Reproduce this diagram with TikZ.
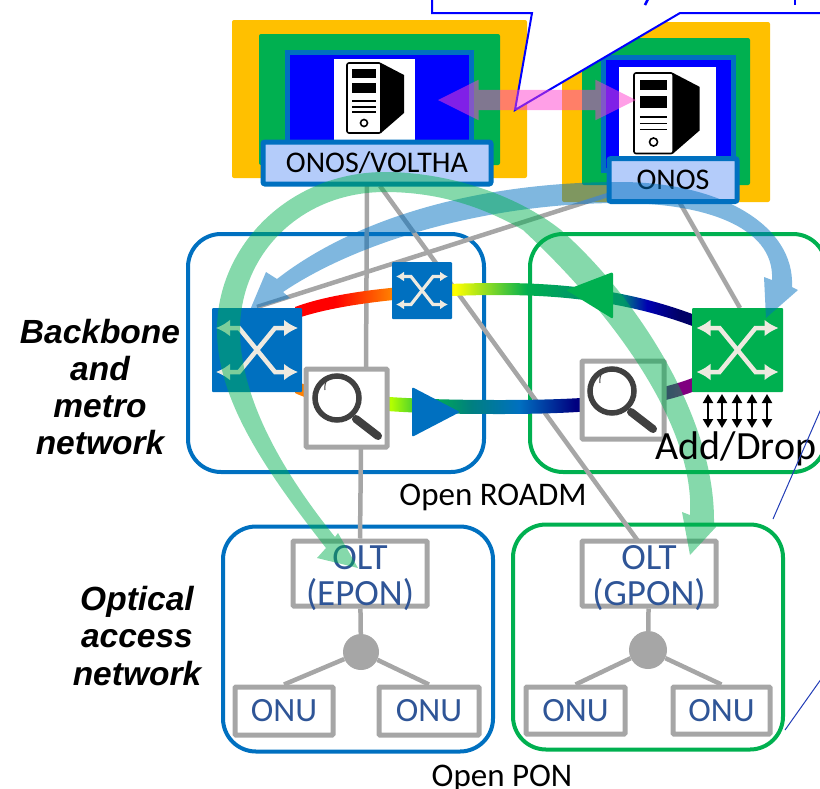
\documentclass[tikz,border=0pt]{standalone}
\usepackage{fontspec}
\setmainfont{Carlito}
\newfontfamily\labelfont{Liberation Sans}
\usetikzlibrary{arrows.meta,shapes.arrows}

\definecolor{netblue}{HTML}{0070C0}
\definecolor{netgreen}{HTML}{00B050}
\definecolor{netgray}{HTML}{A6A6A6}
\definecolor{netyellow}{HTML}{FFC000}
\definecolor{nettext}{HTML}{2F5597}
\definecolor{labelfill}{HTML}{B4CCFA}
\definecolor{iconcream}{HTML}{EEEAE0}
\definecolor{lensgray}{HTML}{404040}
\definecolor{peerpink}{HTML}{FF40D0}

\pgfdeclarelayer{below}
\pgfdeclarelayer{links}
\pgfsetlayers{below,links,main}

% band colours, the outline of a path spans 25bp to 75bp
\pgfdeclarehorizontalshading{fibertop}{100bp}{color(0bp)=(red); color(30bp)=(red);
  color(37bp)=(orange); color(45bp)=(yellow); color(54bp)=(netgreen);
  color(66bp)=(teal); color(69bp)=(blue!70!black); color(73bp)=(blue!40!black); color(100bp)=(blue!40!black)}
\pgfdeclarehorizontalshading{fiberbot}{100bp}{color(0bp)=(orange); color(26bp)=(orange);
  color(37bp)=(yellow!70!green); color(42bp)=(netgreen); color(47bp)=(teal);
  color(53bp)=(netblue); color(60bp)=(blue!50!black); color(67bp)=(blue!40!black);
  color(73bp)=(violet); color(100bp)=(violet)}

\tikzset{
  xconn/.pic={
    \draw[line width=#1,iconcream,{Latex[length=14pt,width=17pt]}-{Latex[length=14pt,width=17pt]}]
      (-41,-22) -- (-18,-22) -- (18,22) -- (41,22);
    \draw[line width=#1,iconcream,{Latex[length=14pt,width=17pt]}-{Latex[length=14pt,width=17pt]}]
      (-41,22) -- (-18,22) -- (18,-22) -- (41,-22);
  },
  smallxconn/.pic={
    \draw[line width=#1,iconcream,{Latex[length=8pt,width=10pt]}-{Latex[length=8pt,width=10pt]}]
      (-26,-14) -- (-11,-14) -- (11,14) -- (26,14);
    \draw[line width=#1,iconcream,{Latex[length=8pt,width=10pt]}-{Latex[length=8pt,width=10pt]}]
      (-26,14) -- (-11,14) -- (11,-14) -- (26,-14);
  },
  servericon/.pic={
    \fill (34,0) -- (57,12) -- (57,50) -- (34,70) -- cycle;
    \draw[line width=1.6pt,rounded corners=2pt] (0,0) rectangle (34,70);
    \fill (5,6) rectangle (29,15);
    \fill (5,20) rectangle (29,30);
    \draw[line width=1.6pt] (5,38) -- (29,38) (5,44) -- (29,44) (5,49) -- (29,49);
    \draw[line width=1.6pt] (17,60) circle (3.5);
  },
  lensicon/.pic={
    \draw[lensgray,line width=5.5pt] (0,0) circle (22);
    \draw[lensgray,line width=1pt] (-12,-8) arc (170:215:14);
    \draw[lensgray,line width=8pt,line cap=round] (19,21) -- (41,38);
  },
  labelbox/.style={draw=netblue,fill=labelfill,line width=5pt,rounded corners=2pt,
    inner sep=0pt,font=\fontsize{30}{33}\selectfont},
  ringbox/.style={draw=#1,line width=4pt,rounded corners=33pt,inner sep=0pt},
  graybox/.style={draw=netgray,fill=white,line width=5pt,rounded corners=1pt,inner sep=0pt,
    text=nettext,font=\fontsize{34}{36}\selectfont,align=center},
  oltbox/.style={graybox,minimum width=134pt,minimum height=65pt},
  olttext/.style={inner sep=0pt,text=nettext,align=center,font=\fontsize{37}{36}\selectfont},
  switchbox/.style={fill=#1,rounded corners=1pt,inner sep=0pt},
  hubdot/.style={circle,fill=netgray,inner sep=0pt},
  grayline/.style={draw=netgray,line width=4.5pt},
  plaintext/.style={inner sep=0pt,font=\fontsize{33}{36}\selectfont},
  nettitle/.style={inner sep=0pt,align=center,font=\labelfont\bfseries\itshape\fontsize{33.5}{37.3}\selectfont},
  thinlink/.style={draw=nettext!70!blue,line width=1pt}
}

\begin{document}
\begin{tikzpicture}[x=1pt,y=-1pt]
\useasboundingbox (0,0) rectangle (820,788);
\clip (0,0) rectangle (820,788);

% rings and controllers
\begin{pgfonlayer}{below}
\node[ringbox=netblue,minimum width=296pt,minimum height=238pt] (roadmleft) at (336,353) {};
\node[ringbox=netgreen,minimum width=296pt,minimum height=238pt] (roadmright) at (678,353) {};
\node[ringbox=netblue,minimum width=270pt,minimum height=225pt] (ponleft) at (358,639) {};
\node[ringbox=netgreen,minimum width=270pt,minimum height=225pt] (ponright) at (648,637) {};

\fill[netyellow,rounded corners=2pt] (232,20) rectangle (527,178);
\fill[netgreen,rounded corners=2pt] (259,34) rectangle (500,165);
\draw[netblue,fill=blue,line width=5pt] (287,52) rectangle (471,150);
\fill[white] (334,59) rectangle (415,140);
\pic at (347,63) {servericon};

\fill[netyellow,rounded corners=2pt] (562,22) rectangle (770,202);
\fill[netgreen,rounded corners=2pt] (582,38) rectangle (750,185);
\draw[netblue,fill=blue,line width=5pt] (603,57) rectangle (733,170);
\fill[white] (619,67) rectangle (716,156);
\pic[scale=1.15] at (634,73) {servericon};
\end{pgfonlayer}

\node[labelbox,minimum width=228pt,minimum height=42pt] (ctrlleft) at (377,163) {ONOS/VOLTHA};
\node[labelbox,minimum width=128pt,minimum height=43pt] (ctrlright) at (673,180) {ONOS};

% fibres
\shade[shading=fibertop] (295,307) .. controls (340,290) and (420,283) .. (500,283)
  .. controls (590,283) and (650,298) .. (695,315) -- (695,327)
  .. controls (650,310) and (590,295) .. (500,295)
  .. controls (420,295) and (340,303) .. (295,319) -- cycle;
\shade[shading=fiberbot] (295,381) .. controls (330,395) and (400,400) .. (500,400)
  .. controls (590,400) and (650,395) .. (695,377) -- (695,391)
  .. controls (650,408) and (590,414) .. (500,414)
  .. controls (400,414) and (330,410) .. (295,393) -- cycle;

\node[switchbox=netblue,minimum width=90pt,minimum height=84pt] (swleft) at (257,350) {};
\node[switchbox=netblue,minimum width=60pt,minimum height=57pt] (swmid) at (422,290.5) {};
\node[switchbox=netgreen,minimum width=91pt,minimum height=84pt] (swright) at (737.5,350) {};

\node[graybox,minimum width=81pt,minimum height=78pt] (probeleft) at (346.5,408) {};
\node[graybox,minimum width=82pt,minimum height=78pt] (proberight) at (623,400) {};
\node[oltbox] (oltleft) at (360,573.5) {};
\node[oltbox] (oltright) at (649,573.5) {};
\node[olttext] (oltnameleft) at (360,578) {OLT\\(EPON)};
\node[olttext] (oltnameright) at (649,578) {OLT\\(GPON)};
\node[graybox,minimum width=98pt,minimum height=48pt] (onua) at (284,711) {ONU};
\node[graybox,minimum width=100pt,minimum height=48pt] (onub) at (429,711) {ONU};
\node[graybox,minimum width=99pt,minimum height=47pt] (onuc) at (575.5,710.5) {ONU};
\node[graybox,minimum width=97pt,minimum height=47pt] (onud) at (721.5,710.5) {ONU};
\node[hubdot,minimum size=36pt] (hubleft) at (361,652) {};
\node[hubdot,minimum size=38pt] (hubright) at (648,650) {};

\coordinate (ctrlleftA) at (367,186);
\coordinate (ctrlleftB) at (380,186);
\coordinate (ctrlrightA) at (608,195);
\coordinate (ctrlrightB) at (680,203);
\coordinate (swleftT) at (257,307);
\coordinate (swrightT) at (740,308);
\coordinate (probeleftT) at (366,369);
\coordinate (probeleftB) at (361,447);
\coordinate (oltrightT) at (638,541);

\begin{pgfonlayer}{links}
\draw[grayline] (ctrlrightA) -- (swleftT);
\draw[grayline] (ctrlrightB) -- (swrightT);
\draw[grayline] (ctrlleftA) -- (probeleftT);
\draw[grayline] (probeleftB) -- (oltleft.north);
\draw[grayline] (ctrlleftB) -- (oltrightT);
\draw[grayline] (oltleft) -- (hubleft);
\draw[grayline] (oltright) -- (hubright);
\draw[grayline] (hubleft) -- (onua.north);
\draw[grayline] (hubleft) -- (onub.north);
\draw[grayline] (hubright) -- (onuc.north);
\draw[grayline] (hubright) -- (onud.north);
\end{pgfonlayer}

\pic at (swleft) {xconn=4.5pt};
\pic at (swright) {xconn=4.5pt};
\pic at (swmid) {smallxconn=3.2pt};
\pic at (337,398) {lensicon};
\pic at (612,391) {lensicon};

\foreach \x in {708,722,737,752,767}
  \draw[line width=2pt,{Triangle[length=9pt,width=10pt]}-{Triangle[length=9pt,width=10pt]}] (\x,394) -- (\x,428);

% direction marks
\fill[netgreen,rounded corners=2pt] (566,290) -- (613,272) -- (613,319) -- cycle;
\fill[netblue,rounded corners=2pt] (460,412) -- (412,387) -- (412,437) -- cycle;

% callout
\draw[draw=blue,fill=white,line width=2pt] (432,-6) -- (432,13) -- (532,13) -- (515,110)
  -- (680,13) -- (830,13) -- (830,-6) -- cycle;
\draw[blue,line width=2.5pt] (648,-1) -- (645,5);
\draw[blue,line width=2.5pt] (795,-1) -- (795,5);

% peer arrow
\node[double arrow,fill=peerpink,opacity=0.5,text height=20pt,text depth=0pt,text width=0pt,
  double arrow head extend=10pt,double arrow tip angle=53,minimum height=198pt,
  inner sep=0pt] (peerlink) at (537,100) {};

% overlay bands
\fill[netblue,opacity=0.5] (766,318) -- (764,277) -- (772,280)
  .. controls (775,225) and (700,203) .. (620,203)
  .. controls (490,203) and (360,240) .. (283,292)
  -- (290,298) -- (250,310) -- (266,272) -- (277,279)
  .. controls (350,222) and (470,182) .. (620,182)
  .. controls (720,182) and (795,225) .. (792,287)
  -- (798,290) -- cycle;
\fill[netgreen,opacity=0.48] (358,568) -- (317,558) -- (326,548)
  .. controls (265,470) and (217,400) .. (217,330)
  .. controls (217,245) and (290,172) .. (385,172)
  .. controls (440,172) and (510,190) .. (561,230)
  .. controls (640,300) and (715,420) .. (714,522)
  -- (716,527) -- (690,555) -- (682,512) -- (690,515)
  .. controls (695,430) and (620,320) .. (523,230)
  .. controls (480,205) and (435,192) .. (385,192)
  .. controls (300,192) and (240,255) .. (240,330)
  .. controls (240,400) and (285,475) .. (335,537)
  -- (338,533) -- cycle;

% texts
\node[plaintext,font=\fontsize{40}{42}\selectfont] (adddrop) at (736,449) {Add/Drop};
\node[plaintext] (openroadm) at (493,497) {Open ROADM};
\node[plaintext] (openpon) at (502,778) {Open PON};
\node[nettitle] (backbone) at (100,387) {Backbone\\and\\metro\\network};
\node[nettitle] (optical) at (137,636) {Optical\\access\\network};

% thin guide lines
\coordinate (guideA) at (824,402);
\coordinate (guideB) at (773,519);
\coordinate (guideC) at (824,675);
\coordinate (guideD) at (785,730);
\draw[thinlink] (guideA) -- (guideB);
\draw[thinlink] (guideC) -- (guideD);
\end{tikzpicture}
\end{document}
